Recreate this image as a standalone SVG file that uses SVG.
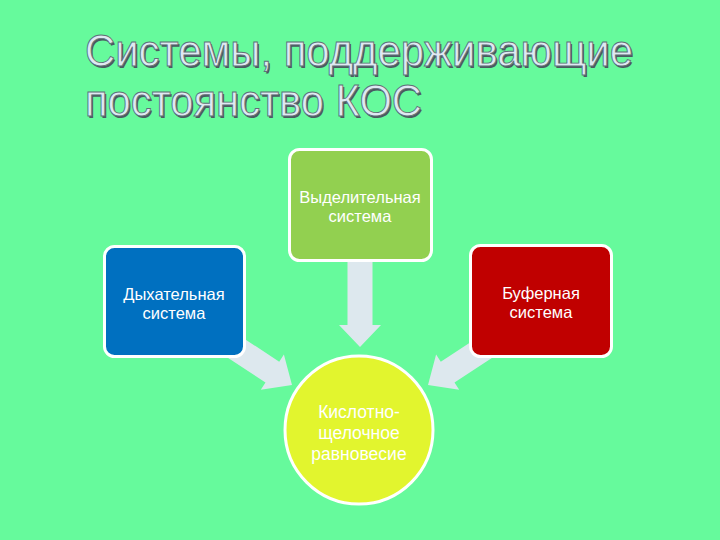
<svg xmlns="http://www.w3.org/2000/svg" width="720" height="540" viewBox="0 0 720 540">
<style>
.title{font-family:"Liberation Sans",Arial,sans-serif;font-size:44px}
.tshadow{fill:#4a5a60}
.tmain{fill:#dfe9f2;stroke:#5f7078;stroke-width:0.9}
.box{stroke:#ffffff;stroke-width:3}
.lbl{font-family:"Liberation Sans",Arial,sans-serif;font-size:16.5px;fill:#ffffff;text-anchor:middle}
.arrow{fill:#dde8ee}
</style>
<rect x="0" y="0" width="720" height="540" fill="#66fa9c"/>
<g id="title">
<text class="title tshadow" x="86.5" y="67.5" textLength="548" lengthAdjust="spacingAndGlyphs">Системы, поддерживающие</text>
<text class="title tshadow" x="86.5" y="117.5" textLength="337" lengthAdjust="spacingAndGlyphs">постоянство КОС</text>
<text class="title tmain" x="85" y="66" textLength="548" lengthAdjust="spacingAndGlyphs">Системы, поддерживающие</text>
<text class="title tmain" x="85" y="116" textLength="337" lengthAdjust="spacingAndGlyphs">постоянство КОС</text>
</g>
<g id="connectors">
<polygon class="arrow" transform="translate(360,347) rotate(90)" points="0,0 -22,-21 -22,-12.5 -86,-12.5 -86,12.5 -22,12.5 -22,21"/>
<polygon class="arrow" transform="translate(292,385) rotate(33.3)" points="0,0 -23.5,-21 -23.5,-12.5 -75,-12.5 -75,12.5 -23.5,12.5 -23.5,21"/>
<polygon class="arrow" transform="translate(428,385) rotate(146.7)" points="0,0 -23.5,-21 -23.5,-12.5 -75,-12.5 -75,12.5 -23.5,12.5 -23.5,21"/>
</g>
<g id="node-excretory">
<rect class="box" x="289.5" y="149.5" width="142" height="111" rx="10" fill="#92d050"/>
<text class="lbl" x="360" y="203">Выделительная</text>
<text class="lbl" x="360" y="222">система</text>
</g>
<g id="node-respiratory">
<rect class="box" x="104.5" y="246.5" width="140" height="110" rx="10" fill="#0070c0"/>
<text class="lbl" x="174" y="300">Дыхательная</text>
<text class="lbl" x="174" y="319">система</text>
</g>
<g id="node-buffer">
<rect class="box" x="470.5" y="245.5" width="141" height="111" rx="10" fill="#c00000"/>
<text class="lbl" x="541" y="299">Буферная</text>
<text class="lbl" x="541" y="318">система</text>
</g>
<g id="node-balance">
<circle class="box" cx="359" cy="430" r="74" fill="#e2f52e"/>
<text class="lbl" x="359" y="418" style="font-size:17.5px">Кислотно-</text>
<text class="lbl" x="359" y="439" style="font-size:17.5px">щелочное</text>
<text class="lbl" x="359" y="460" style="font-size:17.5px">равновесие</text>
</g>
</svg>
